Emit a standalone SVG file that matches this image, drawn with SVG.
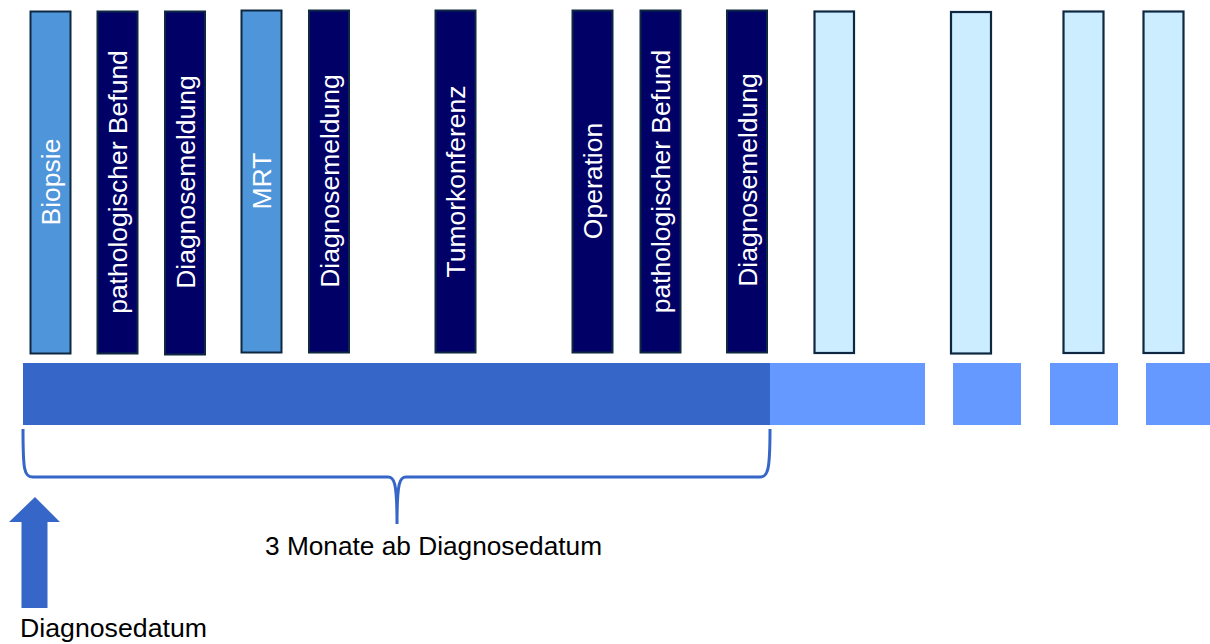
<svg xmlns="http://www.w3.org/2000/svg" width="1210" height="644" viewBox="0 0 1210 644">
<style>
.mid{fill:#4F95DA;stroke:#0E2841;stroke-width:2}
.dark{fill:#000066;stroke:#0E2841;stroke-width:2}
.light{fill:#CCECFF;stroke:#0E2841;stroke-width:2.2}
.vt{font-family:"Liberation Sans",Arial,sans-serif;font-size:26.5px;fill:#FFFFFF;text-anchor:middle}
.lbl{font-family:"Liberation Sans",Arial,sans-serif;font-size:25px;fill:#000000}
</style>
<rect x="0" y="0" width="1210" height="644" fill="#FFFFFF"/>
<g id="biopsie"><rect class="mid" x="30.5" y="11.5" width="40" height="342"/><text class="vt" transform="translate(59.5,182) rotate(-90)">Biopsie</text></g>
<g id="pathbefund1"><rect class="dark" x="97.5" y="11.5" width="40" height="342"/><text class="vt" transform="translate(127,182) rotate(-90)">pathologischer Befund</text></g>
<g id="diagmeld1"><rect class="dark" x="165" y="11.5" width="40" height="343"/><text class="vt" transform="translate(194.5,182) rotate(-90)">Diagnosemeldung</text></g>
<g id="mrt"><rect class="mid" x="241.5" y="10.5" width="40" height="342"/><text class="vt" transform="translate(271,181) rotate(-90)">MRT</text></g>
<g id="diagmeld2"><rect class="dark" x="309" y="10.5" width="40" height="342"/><text class="vt" transform="translate(338.5,181) rotate(-90)">Diagnosemeldung</text></g>
<g id="tumorkonferenz"><rect class="dark" x="435.5" y="10.5" width="40" height="342"/><text class="vt" transform="translate(465,181.5) rotate(-90)">Tumorkonferenz</text></g>
<g id="operation"><rect class="dark" x="572.5" y="10.5" width="40" height="342"/><text class="vt" transform="translate(602,181) rotate(-90)">Operation</text></g>
<g id="pathbefund2"><rect class="dark" x="640.5" y="10.5" width="40" height="342"/><text class="vt" transform="translate(670,181.5) rotate(-90)">pathologischer Befund</text></g>
<g id="diagmeld3"><rect class="dark" x="727" y="10.5" width="40" height="342"/><text class="vt" transform="translate(756.5,180) rotate(-90)">Diagnosemeldung</text></g>
<g id="future1"><rect class="light" x="814.5" y="11.5" width="39.5" height="341.5"/></g>
<g id="future2"><rect class="light" x="951" y="12" width="40" height="341.5"/></g>
<g id="future3"><rect class="light" x="1063.5" y="11.5" width="40" height="341.5"/></g>
<g id="future4"><rect class="light" x="1143.5" y="11.5" width="40" height="341.5"/></g>
<g id="timeline">
<rect x="23" y="363" width="747" height="62" fill="#3566C8"/>
<rect x="770" y="363" width="155" height="62" fill="#6699FF"/>
<rect x="953" y="363" width="68" height="62" fill="#6699FF"/>
<rect x="1050" y="363" width="68" height="62" fill="#6699FF"/>
<rect x="1146" y="363" width="64" height="62" fill="#6699FF"/>
</g>
<g id="connectors">
<path d="M23,429 C23,470 24,477 33,477 L388,477 C394,477 397,481 397,524 C397,481 400,477 406,477 L760,477 C768,477 770,470 770,429" fill="none" stroke="#3566C8" stroke-width="3"/>
<polygon points="35,497 60,522 47.5,522 47.5,608 21.5,608 21.5,522 9,522" fill="#3566C8"/>
</g>
<g id="labels">
<text class="lbl" x="265" y="555" textLength="337" lengthAdjust="spacingAndGlyphs">3 Monate ab Diagnosedatum</text>
<text class="lbl" x="20" y="637" textLength="187" lengthAdjust="spacingAndGlyphs">Diagnosedatum</text>
</g>
</svg>
